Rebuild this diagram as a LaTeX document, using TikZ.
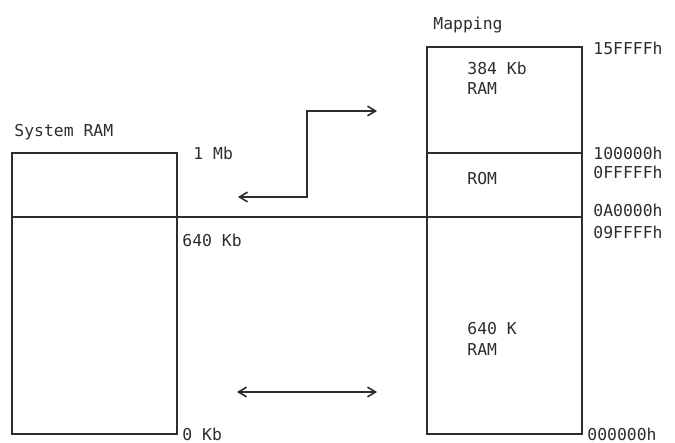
\documentclass[tikz,border=0pt]{standalone}
\usepackage{fontspec}
\setmonofont{DejaVu Sans Mono}
\usetikzlibrary{arrows.meta, positioning, calc}
\definecolor{inkcolor}{RGB}{45,45,45}
\tikzset{
    region/.style={rectangle, draw=inkcolor, line width=0.8pt, inner sep=0pt, outer sep=0pt,
        anchor=north west, minimum width=#1},
    region/.default=82.5pt,
    lbl/.style={anchor=base west, inner sep=0pt, text=inkcolor, font=\ttfamily\fontsize{8.2}{9}\selectfont},
    arrow/.style={{Straight Barb[length=1.4mm, width=1.7mm]}-{Straight Barb[length=1.4mm, width=1.7mm]},
        draw=inkcolor, line width=0.8pt}
}

\begin{document}
\begin{tikzpicture}[x=0.5pt, y=-0.5pt]
    \useasboundingbox (0,0) rectangle (675,443);

    % system RAM column
    \node[region, minimum height=32pt] (sysup) at (12,153) {};
    \node[region, minimum height=108.5pt] (syslow) at (12,217) {};

    % mapping column
    \node[region=77.5pt, minimum height=53pt] (ram384) at (427,47) {};
    \node[region=77.5pt, minimum height=32pt] (rom) at (427,153) {};
    \node[region=77.5pt, minimum height=108.5pt] (ram640) at (427,217) {};

    \draw[inkcolor, line width=0.8pt] (sysup.south east) -- (ram640.north west);

    % headings and addresses
    \node[lbl] (systitle) at (14,137) {System RAM};
    \node[lbl] (maptitle) at (433,30) {Mapping};

    \node[lbl] (onemb) at (193,160) {1 Mb};
    \node[lbl] (sixforty) at (182,247) {640 Kb};
    \node[lbl] (zerokb) at (182,440) {0 Kb};

    \node[lbl] (ramtext) at (467,75) {384 Kb};
    \node[lbl] (ramtextb) at (467,95) {RAM};
    \node[lbl] (romtext) at (467,185) {ROM};
    \node[lbl] (lowtext) at (467,335) {640 K};
    \node[lbl] (lowtextb) at (467,356) {RAM};

    \node[lbl] (addrtop) at (593,55) {15FFFFh};
    \node[lbl] (addrmeg) at (593,160) {100000h};
    \node[lbl] (addrbios) at (593,179) {0FFFFFh};
    \node[lbl] (addrvid) at (593,217) {0A0000h};
    \node[lbl] (addrconv) at (593,239) {09FFFFh};
    \node[lbl] (addrzero) at (587,440) {000000h};

    % connectors
    \coordinate (stepL) at (238,197);
    \coordinate (stepT) at (307,111);
    \coordinate (stepR) at (377,111);
    \coordinate (lowL) at (237,392);
    \coordinate (lowR) at (377,392);

    \draw[arrow] (stepL) -| (stepT) -- (stepR);
    \draw[arrow] (lowL) -- (lowR);

\end{tikzpicture}
\end{document}
